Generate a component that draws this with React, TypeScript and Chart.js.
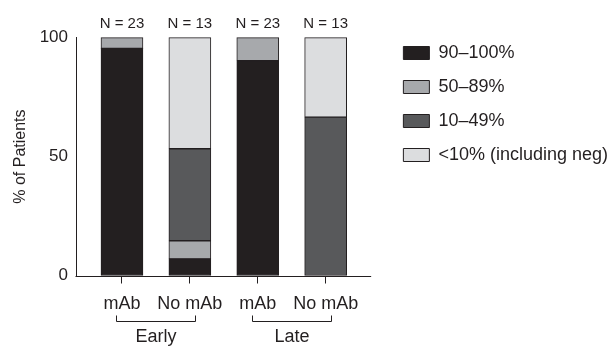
import React, { useEffect, useRef } from 'react';
import { Chart, registerables } from 'chart.js';

Chart.register(...registerables);

const FONT = "'Liberation Sans', Arial, Helvetica, sans-serif";
const INK = '#231f20';

const categories = ['mAb', 'No mAb', 'mAb', 'No mAb'];
const nLabels = ['N = 23', 'N = 13', 'N = 23', 'N = 13'];
const groupLabels = ['Early', 'Late'];
const groupFrom = [0, 2];
const groupTo = [1, 3];
const seriesNames = ['90\u2013100%', '50\u201389%', '10\u201349%', '<10% (including neg)'];
const seriesColors = ['#231f20', '#a7a9ac', '#58595b', '#dcdddf'];
const high = [95.5, 7, 90.3, null];
const mid = [4.5, 7.6, 9.7, null];
const low = [null, 38.7, null, 66.6];
const neg = [null, 46.7, null, 33.4];
const yTickValues = [0, 50, 100];

const X_MIN = -0.677;
const X_MAX = 3.909;
const AXIS_END = 3.67;

const seriesValues = [high, mid, low, neg];

const bracketPlugin = {
  id: 'brackets',
  afterDraw(chart: any) {
    const { ctx, chartArea, scales } = chart;
    const x = scales.x;
    ctx.save();
    ctx.strokeStyle = INK;
    ctx.lineWidth = 1;
    const yb = Math.round(chartArea.bottom) + 0.5;
    ctx.beginPath();
    ctx.moveTo(chartArea.left - 0.5, yb);
    ctx.lineTo(x.getPixelForValue(AXIS_END), yb);
    ctx.stroke();
    ctx.fillStyle = INK;
    ctx.font = `18px ${FONT}`;
    ctx.textAlign = 'center';
    ctx.textBaseline = 'middle';
    groupLabels.forEach((label, i) => {
      const x1 = Math.round(x.getPixelForValue(groupFrom[i])) - 5.5;
      const x2 = Math.round(x.getPixelForValue(groupTo[i])) + 5.5;
      const t = Math.round(chartArea.bottom) + 39.5;
      const b = Math.round(chartArea.bottom) + 45.5;
      ctx.beginPath();
      ctx.moveTo(x1, t);
      ctx.lineTo(x1, b);
      ctx.lineTo(x2, b);
      ctx.lineTo(x2, t);
      ctx.stroke();
      ctx.fillText(label, (x1 + x2) / 2, chartArea.bottom + 62);
    });
    ctx.restore();
  },
};

export default function App() {
  const ref = useRef<HTMLCanvasElement | null>(null);
  useEffect(() => {
    document.body.style.margin = '0';
    const canvas = ref.current;
    if (!canvas) return;
    const setTicks = (scale: any) => {
      scale.ticks = categories.map((_, i) => ({ value: i }));
    };
    const chart = new Chart(canvas, {
      type: 'bar',
      data: {
        datasets: seriesNames.map((name, s) => ({
          label: name,
          data: categories.map((_, i) => ({ x: i, y: seriesValues[s][i] })),
          backgroundColor: seriesColors[s],
          borderColor: INK,
          borderWidth: 1,
          borderSkipped: false,
          barThickness: 42,
          clip: false as any,
        })),
      },
      options: {
        responsive: false,
        animation: false,
        layout: { padding: { top: 10.3, bottom: 22.5, left: 0, right: -10 } },
        scales: {
          x: {
            type: 'linear',
            position: 'bottom',
            stacked: true,
            offset: false,
            min: X_MIN,
            max: X_MAX,
            afterBuildTicks: setTicks,
            border: { display: false },
            grid: {
              display: true,
              offset: false,
              drawOnChartArea: false,
              drawTicks: true,
              tickLength: 8,
              color: INK,
              lineWidth: 1,
            },
            ticks: {
              padding: 10.2,
              color: INK,
              font: { family: FONT, size: 18 },
              maxRotation: 0,
              autoSkip: false,
              callback: (v: any) => categories[v as number],
            },
          },
          x2: {
            type: 'linear',
            position: 'top',
            offset: false,
            min: X_MIN,
            max: X_MAX,
            afterBuildTicks: setTicks,
            border: { display: false },
            grid: { display: false, drawTicks: false, offset: false },
            ticks: {
              padding: 4.7,
              color: INK,
              font: { family: FONT, size: 15 },
              maxRotation: 0,
              autoSkip: false,
              callback: (v: any) => nLabels[v as number],
            },
          },
          y: {
            stacked: true,
            min: 0,
            max: 100,
            afterBuildTicks: (scale: any) => {
              scale.ticks = yTickValues.map((v) => ({ value: v }));
            },
            afterFit: (scale: any) => {
              scale.width = 76;
            },
            border: { display: true, color: INK, width: 1 },
            grid: { display: false, drawTicks: false },
            ticks: {
              padding: 8,
              color: INK,
              font: { family: FONT, size: 17 },
            },
            title: {
              display: true,
              text: '% of Patients',
              color: INK,
              font: { family: FONT, size: 16 },
              padding: { top: 10.5, bottom: 0 },
            },
          },
        },
        plugins: {
          legend: {
            position: 'right',
            align: 'start',
            maxWidth: 260,
            title: { display: true, text: ' ', font: { size: 10, lineHeight: 1.77 }, padding: 0 },
            labels: {
              boxWidth: 26,
              boxHeight: 13,
              padding: 16,
              color: INK,
              font: { family: FONT, size: 18 },
            },
          },
          tooltip: { enabled: false },
        },
      },
      plugins: [bracketPlugin],
    });
    return () => chart.destroy();
  }, []);
  return (
    <div style={{ width: 608, height: 348 }}>
      <canvas ref={ref} width={608} height={348} style={{ display: 'block' }} />
    </div>
  );
}
